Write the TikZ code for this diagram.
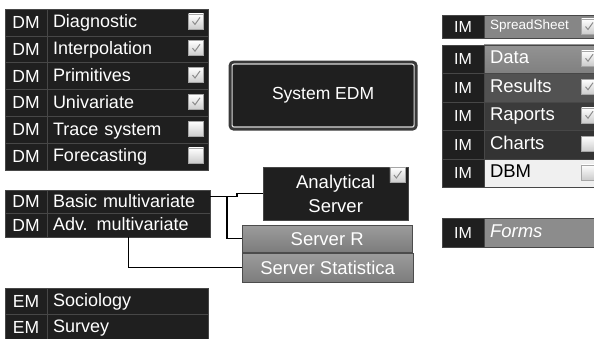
\documentclass[tikz,border=0pt]{standalone}
\usepackage{fontspec}
\setmainfont{Liberation Sans}
\usetikzlibrary{positioning}
\definecolor{rowdark}{HTML}{1F1F1F}
\definecolor{rowline}{HTML}{474747}
\definecolor{tickgray}{HTML}{8C8C8C}
\definecolor{srvtop}{HTML}{9C9C9C}
\definecolor{srvbot}{HTML}{7C7C7C}
\tikzset{
  tag/.style={draw=rowline, fill=rowdark, text=white, minimum width=42pt, minimum height=26.8pt,
    inner sep=0pt, outer sep=0pt, font=\fontsize{17.5}{20}\selectfont},
  item/.style={tag, text width=149pt, inner xsep=6pt, align=left, text height=13.5pt, text depth=2.5pt,
    font=\fontsize{18}{20}\selectfont},
  imtag/.style={tag, minimum height=28.5pt, font=\fontsize{16}{18}\selectfont},
  imitem/.style={imtag, text width=104pt, inner xsep=6pt, align=left, text height=13.5pt, text depth=4pt,
    font=\fontsize{18.5}{20}\selectfont},
  cbox/.style={draw=gray!70, top color=white, bottom color=gray!40, minimum size=15pt, inner sep=0pt},
  srv/.style={draw=gray!60!black, top color=srvtop, bottom color=srvbot, text=white, inner sep=0pt,
    anchor=north west, font=\fontsize{18.5}{22}\selectfont},
  wire/.style={draw=black, line width=1.3pt},
  checkmark/.pic={\draw[tickgray, line width=1pt] (-3.5,0) -- (-1,3) -- (4,-4);}
}
\begin{document}
\begin{tikzpicture}[x=1pt,y=-1pt]
  \useasboundingbox[fill=white] (0,0) rectangle (594,339);
  % DM modules
  \node[tag, anchor=north west] (dm1) at (5,9) {DM};
  \node[item, right=0pt of dm1] (diag) {Diagnostic};
  \node[tag, below=0pt of dm1] (dm2) {DM};
  \node[item, right=0pt of dm2] (interp) {Interpolation};
  \node[tag, below=0pt of dm2] (dm3) {DM};
  \node[item, right=0pt of dm3] (prim) {Primitives};
  \node[tag, below=0pt of dm3] (dm4) {DM};
  \node[item, right=0pt of dm4] (univ) {Univariate};
  \node[tag, below=0pt of dm4] (dm5) {DM};
  \node[item, right=0pt of dm5] (trace) {Trace system};
  \node[tag, below=0pt of dm5] (dm6) {DM};
  \node[item, right=0pt of dm6] (fore) {Forecasting};
  \node[cbox] (cb1) at ([xshift=-12pt,yshift=1pt]diag.east) {};
  \node[cbox] (cb2) at ([xshift=-12pt,yshift=1pt]interp.east) {};
  \node[cbox] (cb3) at ([xshift=-12pt,yshift=1pt]prim.east) {};
  \node[cbox] (cb4) at ([xshift=-12pt,yshift=1pt]univ.east) {};
  \node[cbox] (cb5) at ([xshift=-12pt,yshift=1pt]trace.east) {};
  \node[cbox] (cb6) at ([xshift=-12pt,yshift=1pt]fore.east) {};
  \pic at (cb1) {checkmark};
  \pic at (cb2) {checkmark};
  \pic[tickgray!60!black] at (cb3) {checkmark};
  \pic at (cb4) {checkmark};
  % multivariate
  \node[tag, anchor=north west, minimum height=23.5pt] (dm7) at (5,190) {DM};
  \node[item, right=0pt of dm7, minimum height=23.5pt, text width=151pt] (bm) {Basic multivariate};
  \node[tag, below=0pt of dm7, minimum height=23.5pt] (dm8) {DM};
  \node[item, right=0pt of dm8, minimum height=23.5pt, text width=151pt] (am) {Adv. multivariate};
  % EM modules
  \node[tag, anchor=north west, minimum height=26pt] (em1) at (5,288) {EM};
  \node[item, right=0pt of em1, minimum height=26pt] (soc) {Sociology};
  \node[tag, below=0pt of em1, minimum height=26pt] (em2) {EM};
  \node[item, right=0pt of em2, minimum height=26pt] (surv) {Survey};
  % system box
  \node[fill=rowdark, draw=gray!30, line width=1.2pt, rounded corners=2pt,
    preaction={draw=rowline!80!black, line width=7pt},
    minimum width=182pt, minimum height=63pt, anchor=north west, text=white,
    font=\fontsize{17.5}{20}\selectfont] (edm) at (231.5,63.5) {System EDM};
  % servers
  \node[srv, draw=rowline, fill=rowdark, top color=rowdark, bottom color=rowdark, align=center,
    minimum width=145pt, minimum height=53pt, font=\fontsize{18.5}{24}\selectfont] (an) at (263,167) {Analytical\\Server};
  \node[cbox] (cb7) at ([xshift=-11pt,yshift=-8pt]an.north east) {};
  \pic at (cb7) {checkmark};
  \node[srv, minimum width=170pt, minimum height=27pt] (sr) at (242,225) {Server R};
  \node[srv, minimum width=171pt, minimum height=29pt] (ss) at (242,253) {Server Statistica};
  \draw[wire] ([yshift=5pt]bm.east) -- ++(27,0) |- (an.west);
  \draw[wire] ([xshift=17pt,yshift=5pt]bm.east) |- (sr.west);
  \draw[wire] (am.south) |- (ss.west);
  % IM modules
  \node[imtag, anchor=north west, minimum height=23pt] (im1) at (442,15) {IM};
  \node[imitem, right=0pt of im1, minimum height=23pt, fill=gray!95, text height=10pt, text depth=3pt,
    font=\fontsize{13.5}{15}\selectfont] (sheet) {SpreadSheet};
  \node[imtag, anchor=north west] (im2) at (442,45) {IM};
  \node[imitem, right=0pt of im2, top color=gray!85, bottom color=gray!100] (data) {Data};
  \node[imtag, below=0pt of im2] (im3) {IM};
  \node[imitem, right=0pt of im3, fill=black!68] (res) {Results};
  \node[imtag, below=0pt of im3] (im4) {IM};
  \node[imitem, right=0pt of im4, fill=black!77] (rap) {Raports};
  \node[imtag, below=0pt of im4] (im5) {IM};
  \node[imitem, right=0pt of im5, fill=black!80] (chart) {Charts};
  \node[imtag, below=0pt of im5] (im6) {IM};
  \node[imitem, right=0pt of im6, fill=black!6, text=black] (dbm) {DBM};
  \node[cbox] (cs1) at ([xshift=-11pt]sheet.east) {};
  \node[cbox] (cs2) at ([xshift=-11pt,yshift=1pt]data.east) {};
  \node[cbox] (cs3) at ([xshift=-11pt,yshift=1pt]res.east) {};
  \node[cbox] (cs4) at ([xshift=-11pt,yshift=1pt]rap.east) {};
  \node[cbox] (cs5) at ([xshift=-11pt,yshift=1pt]chart.east) {};
  \node[cbox] (cs6) at ([xshift=-11pt,yshift=1pt]dbm.east) {};
  \pic[tickgray!60!black] at (cs1) {checkmark};
  \pic[tickgray!60!black] at (cs2) {checkmark};
  \pic at (cs3) {checkmark};
  \pic at (cs4) {checkmark};
  % forms
  \node[imtag, anchor=north west, minimum height=29pt] (im7) at (442,218) {IM};
  \node[imitem, right=0pt of im7, minimum height=29pt, fill=gray!90,
    font=\fontsize{18.5}{20}\selectfont\itshape] (forms) {Forms};
\end{tikzpicture}
\end{document}
